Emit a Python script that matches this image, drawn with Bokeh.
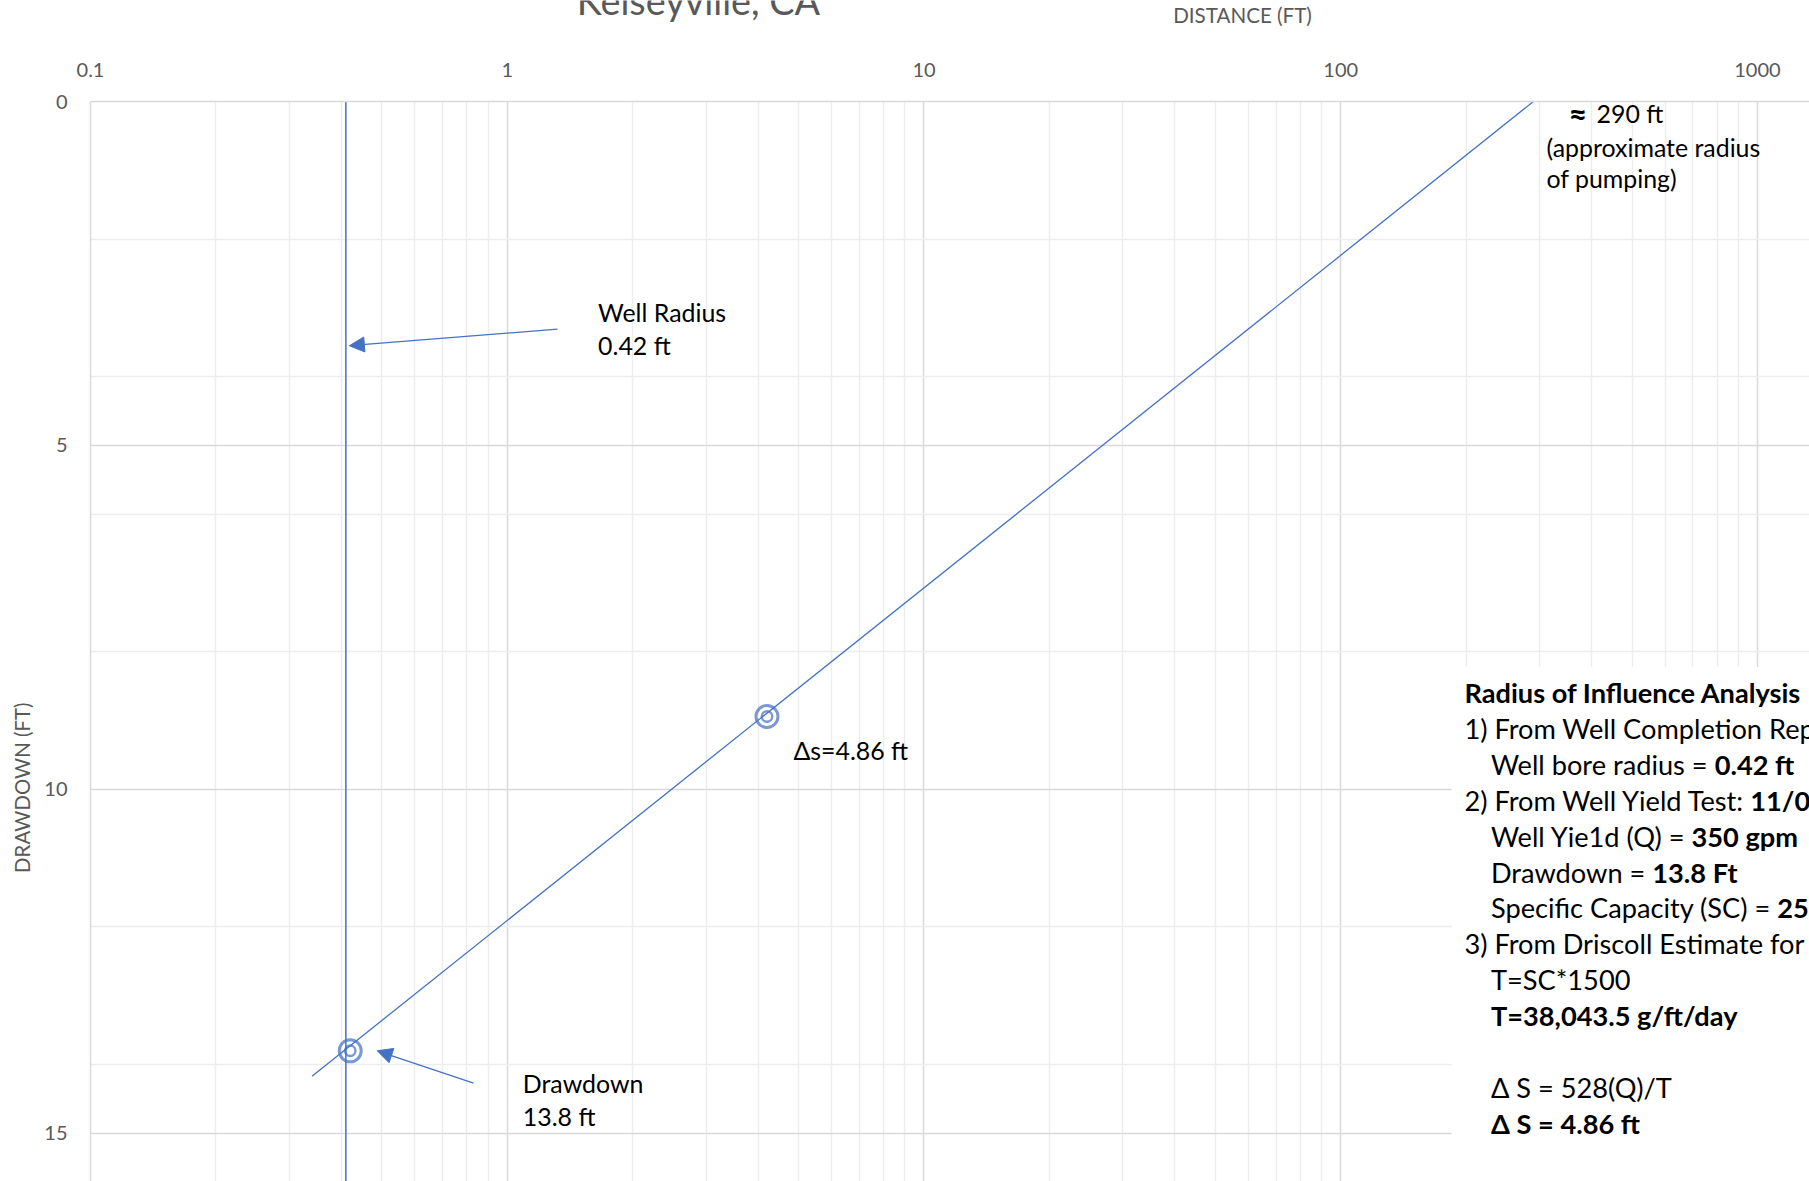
import glob
import os
import math

from bokeh.plotting import figure
from bokeh.layouts import column, row
from bokeh.models import Range1d, FixedTicker, Arrow, NormalHead, ColumnDataSource
from bokeh.core.properties import value
from bokeh.embed import file_html
from bokeh.resources import INLINE

# ---------------- data ----------------
distance_line = [0.34, 290.0]          # ft, straight-line drawdown fit
drawdown_line = [14.17, 0.0]           # ft
well_radius = [0.41]                   # drawn well-radius line (ft)
point_distance = [0.42, 4.2]           # ft, marked points
point_drawdown = [13.8, 8.94]          # ft

x_ticks = [0.1, 1, 10, 100, 1000]
x_tick_labels = ["0.1", "1", "10", "100", "1000"]
x_minor = [0.2, 0.3, 0.4, 0.5, 0.6, 0.7, 0.8, 0.9,
           2, 3, 4, 5, 6, 7, 8, 9,
           20, 30, 40, 50, 60, 70, 80, 90,
           200, 300, 400, 500, 600, 700, 800, 900]
y_ticks = [0, 5, 10, 15]
y_minor = [2, 4, 6, 8, 12, 14]

title_text = "Kelseyville, CA"
x_title = "DISTANCE (FT)"
y_title = "DRAWDOWN (FT)"

# annotation texts
well_label = ["Well Radius", "0.42 ft"]
approx_symbol = ["\u2248"]
radius_label = ["290 ft", "(approximate radius", "of pumping)"]
delta_label = ["\u0394s=4.86 ft"]
dd_label = ["Drawdown", "13.8 ft"]

# text box: (indent, regular part, bold part)
box_lines = [
    (0, "", "Radius of Influence Analysis"),
    (0, "1) From Well Completion Report:", ""),
    (1, "Well bore radius = ", "0.42 ft"),
    (0, "2) From Well Yield Test: ", "11/0"),
    (1, "Well Yie1d (Q) = ", "350 gpm"),
    (1, "Drawdown = ", "13.8 Ft"),
    (1, "Specific Capacity (SC) = ", "25.36 gpm/ft"),
    (0, "3) From Driscoll Estimate for Transmissivity (T):", ""),
    (1, "T=SC*1500", ""),
    (1, "", "T=38,043.5 g/ft/day"),
    (1, "", ""),
    (1, "\u0394 S = 528(Q)/T", ""),
    (1, "", "\u0394 S = 4.86 ft"),
]

BLUE = "#4472C4"
GREY_TXT = "#595959"
FONT = "Lato"

W, H = 1809, 1181          # page
HEAD_H = 40                # header strip (chart/axis titles)
LEFT_W = 40                # left strip (vertical axis title)


# ---------------- font measurement helpers ----------------
def find_font(patterns):
    dirs = ["/usr/share/fonts", "/usr/local/share/fonts",
            os.path.expanduser("~/.fonts"), os.path.expanduser("~/.local/share/fonts")]
    for pat in patterns:
        for d in dirs:
            hits = sorted(glob.glob(os.path.join(d, "**", pat), recursive=True))
            if hits:
                return hits[0]
    return None


LATO_REG = find_font(["Lato-Regular.ttf", "Lato-Regular.otf"])


def measure(path, text, size, em=0.52):
    if path:
        try:
            from PIL import ImageFont
            f = ImageFont.truetype(path, 200)
            return f.getlength(text) * size / 200.0
        except Exception:
            pass
    return len(text) * em * size


def fit(path, samples, fallback):
    if not path:
        return fallback
    vals = []
    for t, w in samples:
        m = measure(path, t, 100)
        if m > 0:
            vals.append(100.0 * w / m)
    return round(sum(vals) / len(vals), 1) if vals else fallback


ann_size = fit(LATO_REG, [("(approximate radius", 219), ("Well Radius", 127.5), ("Drawdown", 118)], 23)
box_size = fit(LATO_REG, [("Well bore radius = ", 226), ("Well Yie1d (Q) = ", 199)], 26)
title_size = fit(LATO_REG, [(title_text, 243)], 32)
xt_size = fit(LATO_REG, [(x_title, 139)], 19)
yt_size = fit(LATO_REG, [(y_title, 170)], 19)


def blank_fig(w, h):
    f = figure(width=w, height=h, title=None, x_range=Range1d(0, w), y_range=Range1d(h, 0),
               output_backend="svg", toolbar_location=None, min_border=0)
    f.axis.visible = False
    f.grid.visible = False
    f.outline_line_color = None
    f.background_fill_color = "white"
    f.border_fill_color = "white"
    return f


# ---------------- header strip: chart title (cut at the top) + x-axis title ----------------
head = blank_fig(W, HEAD_H)
head.text(x=[698], y=[0], text=[title_text], text_font=value(FONT),
          text_font_size=value(f"{title_size}px"), text_color=GREY_TXT,
          text_align="center", text_baseline="middle")
head.text(x=[1242], y=[14], text=[x_title], text_font=value(FONT),
          text_font_size=value(f"{xt_size}px"), text_color=GREY_TXT,
          text_align="center", text_baseline="middle")

# ---------------- left strip: y-axis title ----------------
left = blank_fig(LEFT_W, H - HEAD_H)
left.text(x=[21], y=[725], text=[y_title], text_font=value(FONT),
          text_font_size=value(f"{yt_size}px"), text_color=GREY_TXT,
          text_align="center", text_baseline="middle", angle=math.pi / 2)

# ---------------- main chart ----------------
p = figure(width=W - LEFT_W, height=H - HEAD_H, title=None,
           x_axis_type="log", x_axis_location="above",
           x_range=Range1d(0.1, 1333), y_range=Range1d(15.70, 0),
           output_backend="svg", toolbar_location=None,
           min_border_left=50, min_border_top=61, min_border_right=0, min_border_bottom=0)
p.outline_line_color = None
p.background_fill_color = "white"
p.border_fill_color = "white"

xt = FixedTicker(ticks=x_ticks, minor_ticks=x_minor)
yt = FixedTicker(ticks=y_ticks, minor_ticks=y_minor)
p.xaxis.ticker = xt
p.yaxis.ticker = yt
p.xgrid.ticker = xt
p.ygrid.ticker = yt
p.xaxis.major_label_overrides = {t: l for t, l in zip(x_ticks, x_tick_labels)}

for ax in (p.xaxis, p.yaxis):
    ax.major_tick_line_color = None
    ax.minor_tick_line_color = None
    ax.major_tick_out = 0
    ax.major_tick_in = 0
    ax.minor_tick_out = 0
    ax.minor_tick_in = 0
    ax.axis_line_color = "#d9d9d9"
    ax.axis_line_width = 1.5
    ax.major_label_text_font = FONT
    ax.major_label_text_font_size = "20px"
    ax.major_label_text_color = GREY_TXT
p.xaxis.major_label_standoff = 25
p.yaxis.major_label_standoff = 23

for g in (p.xgrid, p.ygrid):
    g.grid_line_color = "#d9d9d9"
    g.grid_line_width = 1.5
    g.minor_grid_line_color = "#ededed"
    g.minor_grid_line_width = 1.5

# white text-box background (hides the gridlines behind the notes)
p.quad(left=[184.5], right=[1e5], top=[8.22], bottom=[40], fill_color="white", line_color=None)

# drawdown fit line
p.line(distance_line, drawdown_line, line_color=BLUE, line_width=1.3)

# well-radius line
p.segment(x0=well_radius, y0=[-1], x1=well_radius, y1=[20], line_color=BLUE, line_width=1.5)

# marked points (double circles)
p.scatter(point_distance, point_drawdown, marker="circle", size=22, fill_color=None,
          line_color=BLUE, line_alpha=0.72, line_width=3)
p.scatter(point_distance, point_drawdown, marker="circle", size=10.5, fill_color=None,
          line_color=BLUE, line_alpha=0.72, line_width=2.4)

# pointer arrows
p.add_layout(Arrow(end=NormalHead(size=15, fill_color=BLUE, line_color=BLUE, line_width=1),
                   x_start=1.32, y_start=3.31, x_end=0.418, y_end=3.55,
                   line_color=BLUE, line_width=1.3))
p.add_layout(Arrow(end=NormalHead(size=15, fill_color=BLUE, line_color=BLUE, line_width=1),
                   x_start=0.83, y_start=14.27, x_end=0.4875, y_end=13.8,
                   line_color=BLUE, line_width=1.3))


def add_text(xs, ys, texts, size, bold=False, offsets=None, color="black"):
    src = ColumnDataSource(dict(x=xs, y=ys, text=texts,
                                xo=offsets if offsets is not None else [0] * len(xs)))
    p.text(x="x", y="y", text="text", x_offset="xo", source=src,
           text_font=value(FONT), text_font_size=value(f"{size}px"),
           text_font_style="bold" if bold else "normal",
           text_color=color, text_align="left", text_baseline="middle")


# annotation labels
add_text([1.652, 1.652], [3.06, 3.535], well_label, ann_size)
add_text([352.0], [0.17], approx_symbol, round(ann_size * 1.3, 1), bold=True)
add_text([410.9, 311.7, 311.7], [0.17, 0.66, 1.115], radius_label, ann_size)
add_text([4.86], [9.425], delta_label, ann_size)
add_text([1.09, 1.09], [14.27, 14.755], dd_label, ann_size)

# notes text box
box_x = 198.1
box_y0 = 8.59
box_step = 0.5223
indent_px = 26.5
rx, ry, rt, ro = [], [], [], []
bx, by, bt, bo = [], [], [], []
for i, (ind, reg, bld) in enumerate(box_lines):
    y = box_y0 + i * box_step
    off = ind * indent_px
    if reg:
        rx.append(box_x); ry.append(y); rt.append(reg); ro.append(off)
    if bld:
        w = measure(LATO_REG, reg, box_size) if reg else 0.0
        bx.append(box_x); by.append(y); bt.append(bld); bo.append(off + w)
add_text(rx, ry, rt, box_size, offsets=ro)
add_text(bx, by, bt, box_size, bold=True, offsets=bo)

layout = column(head, row(left, p, spacing=0), spacing=0)
open("out.html", "w").write(file_html(layout, INLINE))
